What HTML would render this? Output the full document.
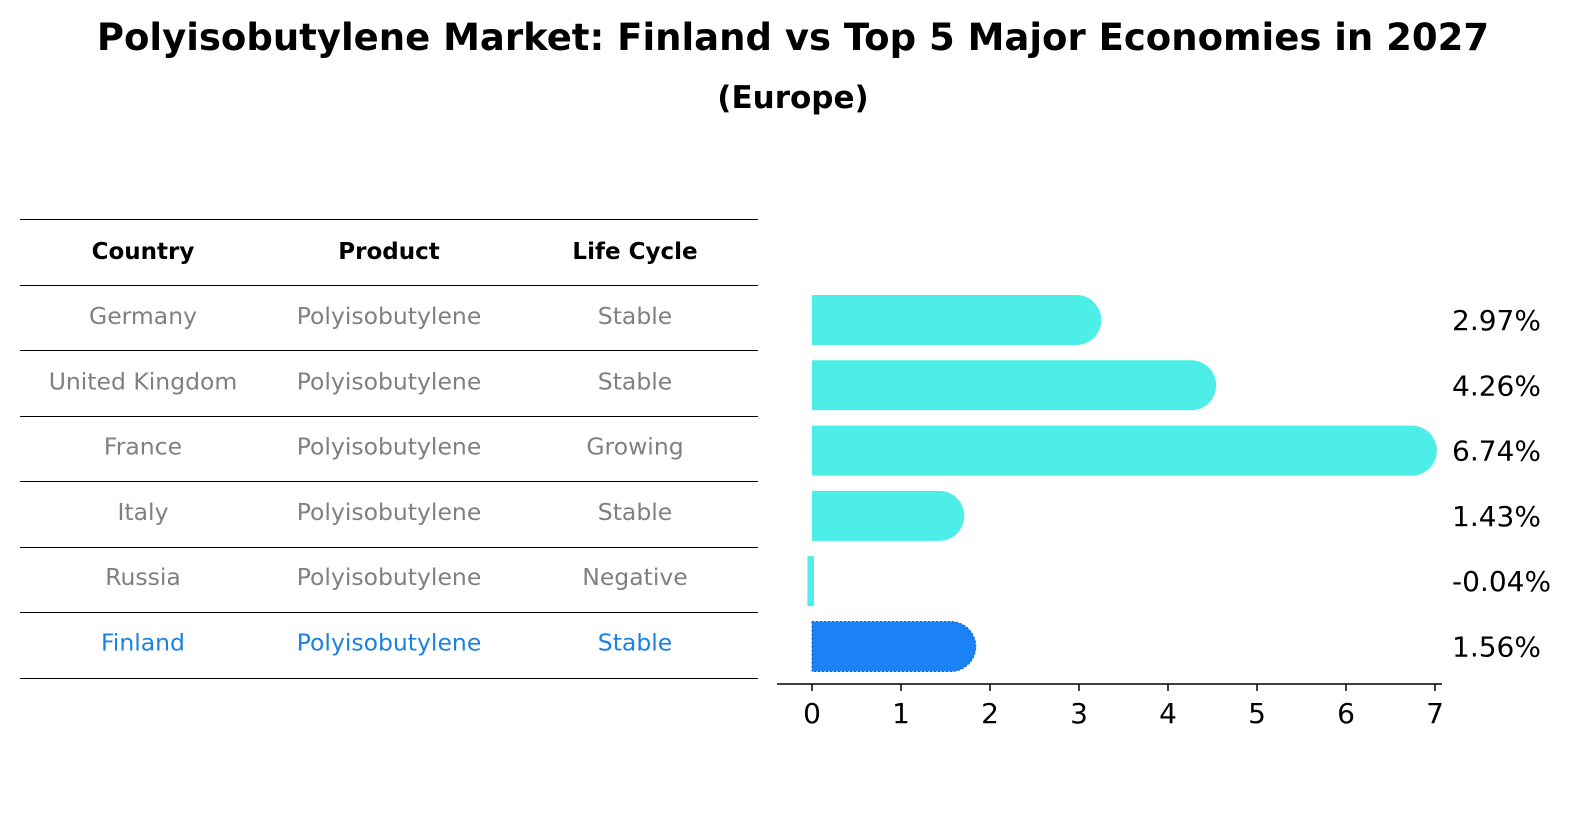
<!DOCTYPE html>
<html><head><meta charset="utf-8"><style>
body{margin:0;background:#fff;font-family:"Liberation Sans","DejaVu Sans",sans-serif}
</style></head><body>
<svg width="1596" height="823" xmlns="http://www.w3.org/2000/svg" font-family="DejaVu Sans, Liberation Sans, sans-serif">
<text x="793" y="50" text-anchor="middle" font-size="37" font-weight="bold">Polyisobutylene Market: Finland vs Top 5 Major Economies in 2027</text>
<text x="793" y="108" text-anchor="middle" font-size="31" font-weight="bold">(Europe)</text>
<g id="table"></g>
<g id="bars"></g>
<g id="axis"></g>
</svg>
<script>
const countries=["Germany","United Kingdom","France","Italy","Russia","Finland"];
const products=["Polyisobutylene","Polyisobutylene","Polyisobutylene","Polyisobutylene","Polyisobutylene","Polyisobutylene"];
const lifecycle=["Stable","Stable","Growing","Stable","Negative","Stable"];
const values=[2.97,4.26,6.74,1.43,-0.04,1.56];
const ticks=[0,1,2,3,4,5,6,7];
const NS="http://www.w3.org/2000/svg";
function mk(t,a,p){const e=document.createElementNS(NS,t);for(const k in a)e.setAttribute(k,a[k]);p.appendChild(e);return e;}
const x=v=>812+v*89;
const rowY=i=>320+i*65.3;
const tb=document.getElementById('table');
const lines=[219,285,350,416,481,547,612,678];
lines.forEach(y=>{const l=mk('line',{x1:20,x2:758,y1:y+0.5,y2:y+0.5,stroke:'#000','stroke-width':1},tb);

});
const cx=[143,389,635];
["Country","Product","Life Cycle"].forEach((h,j)=>{const t=mk('text',{x:cx[j],y:259,'text-anchor':'middle','font-size':23,'font-weight':'bold'},tb);t.textContent=h;

});
countries.forEach((c,i)=>{const col=i==5?'#1a82e0':'#808080';
[c,products[i],lifecycle[i]].forEach((s,j)=>{const t=mk('text',{x:cx[j],y:rowY(i)+4,'text-anchor':'middle','font-size':23.5,fill:col},tb);t.textContent=s;

});});
const bg=document.getElementById('bars');
values.forEach((v,i)=>{const y0=rowY(i)-25,h=50;const col=i==5?'#1a82f5':'#4deee8';
const g=mk('g',{},bg);


if(v>0.05){const x1=x(v);
mk('path',{d:`M${x(0)},${y0} L${x1},${y0} A25,25 0 0 1 ${x1},${y0+h} L${x(0)},${y0+h} Z`,fill:col,stroke:i==5?'#1565c0':'none','stroke-width':1,'stroke-dasharray':'2,2'},g);}
else{const a=Math.min(x(0),x(v))-1;mk('rect',{x:a,y:y0,width:Math.abs(x(v)-x(0))+3,height:h,fill:col},g);}
const t=mk('text',{x:1452,y:rowY(i)+10,'font-size':28},bg);t.textContent=v.toFixed(2)+'%';

});
const ax=document.getElementById('axis');
mk('line',{x1:777,x2:1442,y1:684,y2:684,stroke:'#000','stroke-width':1.5},ax);
ticks.forEach(v=>{mk('line',{x1:x(v),x2:x(v),y1:684,y2:691,stroke:'#000','stroke-width':1.5},ax);
const t=mk('text',{x:x(v),y:723,'text-anchor':'middle','font-size':28},ax);t.textContent=v;

});
</script>
</body></html>
